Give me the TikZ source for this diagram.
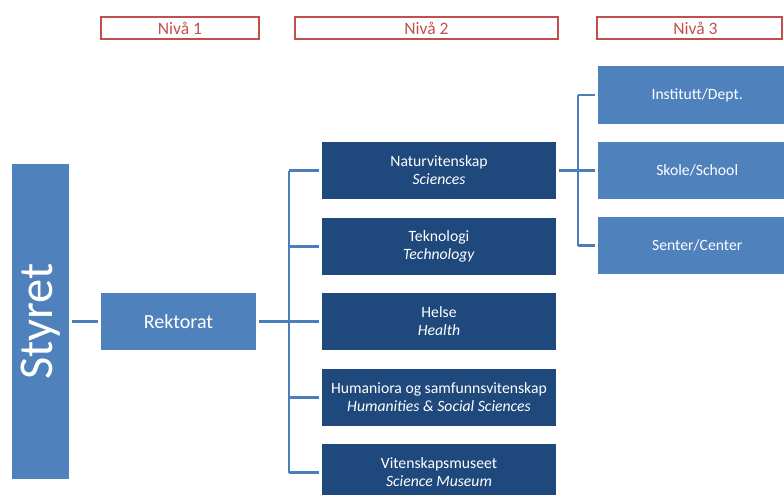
\documentclass[tikz,border=0pt]{standalone}
\usepackage{fontspec}
\setmainfont{Carlito}
\definecolor{lightblue}{HTML}{4F81BD}
\definecolor{darkblue}{HTML}{1F497D}
\definecolor{linkblue}{HTML}{4A7EBB}
\definecolor{levelred}{HTML}{C0504D}
\begin{document}
\begin{tikzpicture}[x=1pt,y=-1pt,
  levelbox/.style={draw=levelred,line width=2pt,text=levelred,font=\fontsize{17.5}{19}\selectfont,
    minimum height=22pt,inner sep=0pt},
  topbox/.style={fill=lightblue,text=white,inner sep=0pt},
  facbox/.style={fill=darkblue,text=white,minimum width=234pt,minimum height=57pt,inner sep=0pt,
    align=center,font=\fontsize{15.7}{18}\selectfont},
  unitbox/.style={fill=lightblue,text=white,minimum width=186pt,minimum height=57pt,inner sep=0pt,
    font=\fontsize{15.7}{18}\selectfont},
  link/.style={draw=linkblue,line width=2.4pt}]
\useasboundingbox (0,0) rectangle (784,495);
\begin{scope}
\clip (0,0) rectangle (784,495);
% level headings
\node[levelbox,minimum width=158pt] (n1) at (180,28) {Nivå 1};
\node[levelbox,minimum width=263pt] (n2) at (426.5,28) {Nivå 2};
\node[levelbox,minimum width=185pt] (n3) at (689.5,28) {\hspace*{12pt}Nivå 3};
% board and rector
\node[topbox,minimum width=57pt,minimum height=315pt] (styret) at (40.5,321.5)
  {\rotatebox{90}{\fontsize{48.5}{50}\selectfont Styret}};
\node[topbox,minimum width=155pt,minimum height=57pt,font=\fontsize{20}{22}\selectfont] (rekt) at (178.5,321.5) {Rektorat};
% faculties
\node[facbox] (nat) at (439,170.5) {Naturvitenskap\\\textit{Sciences}};
\node[facbox] (tek) at (439,246.5) {Teknologi\\\textit{Technology}};
\node[facbox] (hel) at (439,321.5) {Helse\\\textit{Health}};
\node[facbox] (hum) at (439,397.5) {Humaniora og samfunnsvitenskap\\\textit{Humanities \& Social Sciences}};
\node[facbox] (vit) at (439,472.5) {Vitenskapsmuseet\\\textit{Science Museum}};
% units
\node[unitbox,anchor=west] (ins) at (598,95) {\hspace*{12pt}Institutt/Dept.};
\node[unitbox,anchor=west] (sko) at (598,170.5) {\hspace*{12pt}Skole/School};
\node[unitbox,anchor=west] (sen) at (598,245.5) {\hspace*{12pt}Senter/Center};
% connectors
\coordinate (bus) at (289,321.5);
\coordinate (ubus) at (578,170.5);
\draw[link] ([xshift=3pt]styret.east) -- ([xshift=-3pt]rekt.west);
\draw[link] ([xshift=3pt]rekt.east) -- (bus);
\foreach \f in {nat,tek,hel,hum,vit}
  \draw[link] (bus |- \f.west) -- ([xshift=-3pt]\f.west);
\draw[link] (bus |- nat.west) -- (bus |- vit.west);
\draw[link] ([xshift=3pt]nat.east) -- (ubus);
\foreach \u in {ins,sko,sen}
  \draw[link] (ubus |- \u.west) -- ([xshift=-3pt]\u.west);
\draw[link] (ubus |- ins.west) -- (ubus |- sen.west);
\end{scope}
\end{tikzpicture}
\end{document}
